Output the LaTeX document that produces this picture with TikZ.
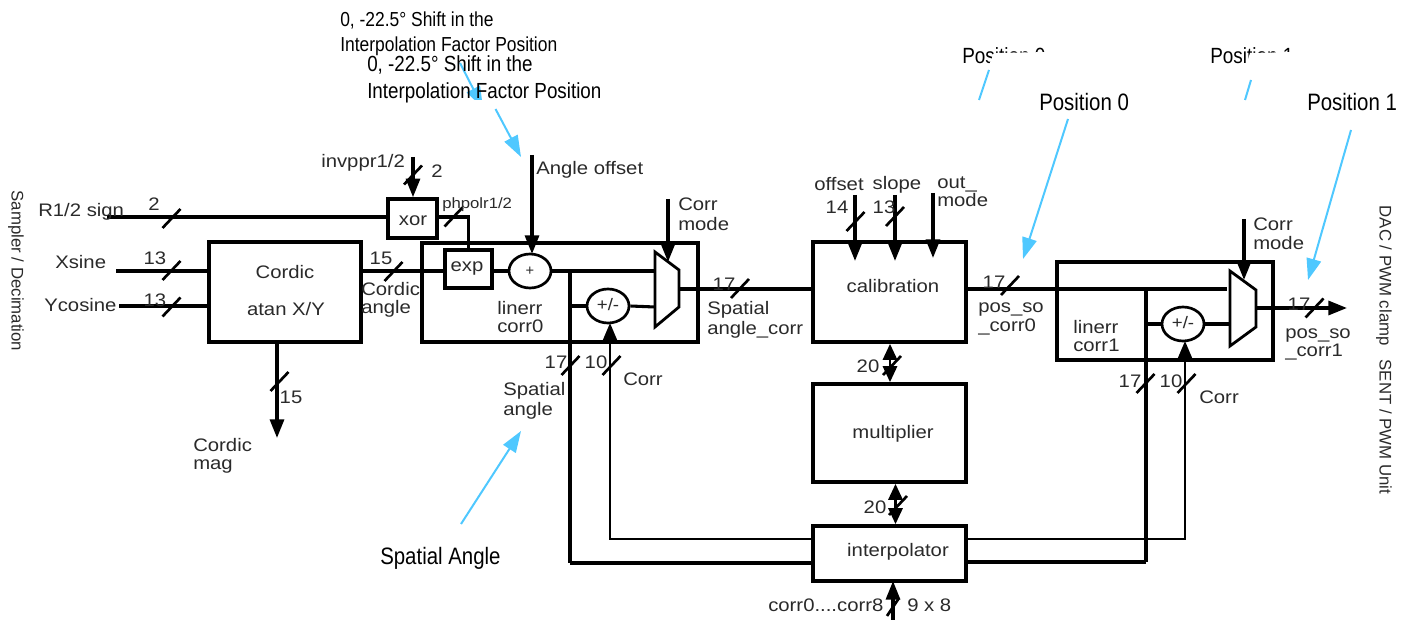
\documentclass[tikz,border=0pt]{standalone}
\usepackage{fontspec}
\setmainfont{Liberation Sans}
\newfontfamily\widefont[FakeStretch=1.12]{Liberation Sans}
\newfontfamily\narrowfont[FakeStretch=0.86]{Liberation Sans}
\usetikzlibrary{arrows.meta,shapes.geometric}
\definecolor{inkgray}{HTML}{2A2A2A}
\definecolor{callout}{HTML}{4FC8FF}
\tikzset{
  blockbox/.style={draw=black,line width=2.7pt,inner sep=0pt,fill=none},
  outerbox/.style={draw=black,line width=2.5pt,inner sep=0pt,fill=none},
  sumnode/.style={draw=black,ellipse,line width=2pt,fill=white,inner sep=0pt,minimum width=31.5pt,minimum height=25.5pt},
  wire/.style={draw=black,line width=2.3pt},
  thinwire/.style={draw=black,line width=1.7pt},
  bus/.style={draw=black,line width=3.1pt},
  arrowwire/.style={draw=black,line width=2.4pt,-{Triangle[length=14pt,width=10.5pt]}},
  thinarrow/.style={draw=black,line width=1.7pt,-{Triangle[length=13pt,width=10.5pt]}},
  bothwire/.style={draw=black,line width=2.2pt,{Triangle[length=12pt,width=10.5pt]}-{Triangle[length=12pt,width=10.5pt]}},
  buswidth/.style={draw=black,line width=2pt},
  lab/.style={inner sep=0pt,anchor=west,align=left,text=inkgray,text height=11.5pt,text depth=2.5pt,font=\widefont\fontsize{13.6}{15}\selectfont},
  clab/.style={lab,anchor=center,align=center},
  smalllab/.style={lab,font=\widefont\fontsize{11.2}{13}\selectfont},
  sidelab/.style={inner sep=0pt,rotate=-90,text=inkgray,font=\fontsize{12.6}{14}\selectfont},
  callouttext/.style={inner sep=0pt,anchor=west,align=left,text=black,text height=14pt,text depth=1.8pt},
  calloutarrow/.style={draw=callout,line width=1.5pt,-{Triangle[length=16pt,width=11pt]}},
  calloutline/.style={draw=callout,line width=1.5pt},
  maskbox/.style={fill=white,draw=none},
  muxshape/.style={draw=black,line width=2.1pt,line join=miter,fill=white},
}
\newcommand{\buslabel}[3][]{\draw[buswidth] (#2-9,#3+9.5) -- (#2+9,#3-9.5);}
\newcommand{\pxbox}[5]{\node[#5,minimum width=#3*0.75pt,minimum height=#4*0.75pt] (#1) at (#2) {};}
\begin{document}
\begin{tikzpicture}[x=0.75pt,y=-0.75pt]
\useasboundingbox (0,0) rectangle (1409,620);

% --- older, partly covered callouts
\node[callouttext,font=\narrowfont\fontsize{15.2}{17}\selectfont] (oldshiftA) at (340,18) {0, -22.5° Shift in the};
\node[callouttext,font=\narrowfont\fontsize{15.2}{17}\selectfont] (oldshiftB) at (340,43) {Interpolation Factor Position};
\coordinate (oldshiftfrom) at (460,63);
\coordinate (oldshiftto) at (483,108);
\draw[calloutarrow] (oldshiftfrom) -- (oldshiftto);
\fill[maskbox] (470,100) rectangle (520,125);
\node[callouttext,font=\narrowfont\fontsize{16.5}{18}\selectfont] (oldpos0) at (962,55) {Position 0};
\node[callouttext,font=\narrowfont\fontsize{16.5}{18}\selectfont] (oldpos1) at (1210,55) {Position 1};
\fill[maskbox] (994,53) -- (1050,52) -- (1050,72) -- (986,72) -- cycle;
\fill[maskbox] (1250,53) -- (1298,52) -- (1298,72) -- (1244,72) -- cycle;
\coordinate (oldpos0a) at (989,70); \coordinate (oldpos0b) at (979,100);
\coordinate (oldpos1a) at (1251,80); \coordinate (oldpos1b) at (1245,100);
\draw[calloutline] (oldpos0a) -- (oldpos0b);
\draw[calloutline] (oldpos1a) -- (oldpos1b);

% --- blocks
\pxbox{cordic}{285,292}{152}{100}{blockbox}
\pxbox{xorb}{412.5,218.5}{49}{39}{blockbox}
\pxbox{corrzero}{560,292.5}{276}{99}{outerbox}
\pxbox{expb}{468.5,269}{47}{38}{blockbox}
\pxbox{calib}{889.5,292}{153}{100}{blockbox}
\pxbox{multi}{889.5,433}{153}{98}{blockbox}
\pxbox{interp}{889.5,553.5}{153}{55}{blockbox}
\pxbox{corrone}{1165,311}{216}{98}{outerbox}

% --- named points
\coordinate (rsign) at (107,217);
\coordinate (xs) at (116,271);
\coordinate (yc) at (119,306);
\coordinate (invtop) at (413,157);
\coordinate (offtop) at (532,155);
\coordinate (offtip) at (532,254);
\coordinate (cm0top) at (668,199);
\coordinate (cm0tip) at (668,262);
\coordinate (magtip) at (277,438);
\coordinate (junc0) at (570,271);
\coordinate (junc1) at (1146,289);
\coordinate (ctop1) at (855,195);
\coordinate (ctip1) at (855,261);
\coordinate (ctop2) at (895,195);
\coordinate (ctip2) at (895,261);
\coordinate (ctop3) at (933,193);
\coordinate (ctip3) at (933,258);
\coordinate (cm1top) at (1244,219);
\coordinate (cm1tip) at (1244,280);
\coordinate (outtip) at (1347,308);
\coordinate (corrin) at (893,620);
\coordinate (corrtip) at (893,581);

% --- multiplexers and adders
\draw[muxshape] (655,252) -- (679,270) -- (679,307) -- (655,327) -- cycle;
\draw[muxshape] (1230,271) -- (1256,290) -- (1256,327) -- (1230,346) -- cycle;
\coordinate (mux0in) at (655,271);
\coordinate (mux0inb) at (655,307);
\coordinate (mux0out) at (679,289);
\coordinate (mux1in) at (1227,289);
\coordinate (mux1inb) at (1230,324);
\coordinate (mux1out) at (1256,308);

% --- wires
\draw[wire] (rsign) -- (rsign -| xorb.west);
\draw[bus] (xs) -- (xs -| cordic.west);
\draw[bus] (yc) -- (yc -| cordic.west);
\draw[arrowwire] (invtop) -- (xorb.north -| invtop);
\draw[wire] (xorb.east |- rsign) -| (expb.north);
\draw[bus] (cordic.east |- xs) -- (xs -| expb.west);
\node[sumnode] (plusa) at (530,271) {};
\node[sumnode] (pma) at (608,306) {};
\node[sumnode] (pmb) at (1183,324) {};
\draw[wire] (expb.east |- plusa) -- (plusa.west);
\draw[wire] (plusa.east) -- (mux0in);
\draw[arrowwire] (offtop) -- (offtip);
\draw[arrowwire] (cm0top) -- (cm0tip);
\draw[arrowwire] (cordic.south -| magtip) -- (magtip);
\draw[bus] (junc0) -- (junc0 |- 0,563);
\draw[wire] (junc0 |- 0,563) -- (interp.west |- 0,563);
\draw[bus] (junc0 |- pma) -- (pma.west);
\draw[wire] (pma.east) -- (mux0inb);
\draw[thinarrow] (interp.west |- 0,539) -| (610,323);
\draw[wire] (mux0out) -- (mux0out -| calib.west);
\draw[arrowwire] (ctop1) -- (ctip1);
\draw[arrowwire] (ctop2) -- (ctip2);
\draw[arrowwire] (ctop3) -- (ctip3);
\draw[wire] (calib.east |- mux0out) -- (mux1in);
\draw[bus] (junc1) -- (junc1 |- 0,562);
\draw[wire] (junc1 |- 0,562) -- (interp.east |- 0,562);
\draw[bus] (junc1 |- pmb) -- (pmb.west);
\draw[wire] (pmb.east) -- (mux1inb);
\draw[thinarrow] (interp.east |- 0,539) -| (1185,341);
\draw[arrowwire] (cm1top) -- (cm1tip);
\draw[arrowwire] (mux1out) -- (outtip);
\draw[bothwire] (calib.south -| 890,0) -- (multi.north -| 890,0);
\draw[bothwire] (multi.south -| 895.5,0) -- (interp.north -| 895.5,0);
\draw[arrowwire] (corrin) -- (corrtip);

% --- bus width marks
\buslabel{171.5}{218.5}
\buslabel{171.5}{270.5}
\buslabel{171.5}{307}
\buslabel{413}{175}
\buslabel{453.5}{217}
\buslabel{393.5}{271.5}
\buslabel{279.5}{381.5}
\buslabel{570.5}{365.5}
\buslabel{611.5}{365.5}
\buslabel{740}{288.5}
\buslabel{855.5}{221.5}
\buslabel{895}{216.5}
\buslabel{1010}{285.5}
\buslabel{1145.5}{383.5}
\buslabel{1186.5}{383.5}
\buslabel{1314.5}{308}
\buslabel{892}{365.5}
\buslabel{898}{505.5}
\draw[buswidth] (887,616) -- (899,598);

% --- block labels
\node[clab] (tcordic) at (285,272) {Cordic};
\node[clab] (tatan) at (286,309) {atan X/Y};
\node[clab] (txor) at (413,220) {xor};
\node[clab] (texp) at (467,266) {exp};
\node[clab,font=\fontsize{11}{12}\selectfont] (tplus) at (530,270) {+};
\node[clab,font=\widefont\fontsize{12.5}{12}\selectfont] (tpma) at (608,304) {+/-};
\node[clab,font=\widefont\fontsize{12.5}{12}\selectfont] (tpmb) at (1183,322) {+/-};
\node[lab] (tl0a) at (497,308) {linerr};
\node[lab] (tl0b) at (497,326) {corr0};
\node[lab] (tl1a) at (1073,327) {linerr};
\node[lab] (tl1b) at (1073,345) {corr1};
\node[clab] (tcal) at (893,286) {calibration};
\node[clab] (tmul) at (893,432) {multiplier};
\node[clab] (tint) at (898,550) {interpolator};

% --- signal labels
\node[lab] (lr) at (38,211) {R1/2 sign};
\node[clab] at (154,205) (n2a) {2};
\node[lab] (lx) at (55,262) {Xsine};
\node[clab] at (155,258) (n13a) {13};
\node[lab] (ly) at (44,305) {Ycosine};
\node[clab] at (155,300) (n13b) {13};
\node[lab] (linv) at (321,162) {invppr1/2};
\node[clab] (n2b) at (437,172) {2};
\node[smalllab] (lph) at (442,203) {phpolr1/2};
\node[clab] (n15a) at (381,258) {15};
\node[lab] (lca) at (361,289) {Cordic};
\node[lab] (lcb) at (361,307) {angle};
\node[lab] (loff) at (536,169) {Angle offset};
\node[lab] (lcm0a) at (678,205) {Corr};
\node[lab] (lcm0b) at (678,225) {mode};
\node[clab] (n15b) at (291,397) {15};
\node[lab] (lmaga) at (193,445) {Cordic};
\node[lab] (lmagb) at (193,463) {mag};
\node[clab] (n17a) at (556,362) {17};
\node[clab] (n10a) at (596,362) {10};
\node[lab] (lsa) at (503,389) {Spatial};
\node[lab] (lsb) at (503,409) {angle};
\node[lab] (lcr0) at (623,379) {Corr};
\node[clab] (n17b) at (724,285) {17};
\node[lab] (lsc) at (707,308) {Spatial};
\node[lab] (lsd) at (707,328) {angle\_corr};
\node[clab] (loffs) at (839,185) {offset};
\node[clab] (lslope) at (897,184) {slope};
\node[lab] (lom) at (937,183) {out\_};
\node[lab] (lon) at (937,201) {mode};
\node[clab] (n14) at (837,208) {14};
\node[clab] (n13c) at (884,208) {13};
\node[clab] (n17c) at (994,282) {17};
\node[lab] (lpa) at (978,306) {pos\_so};
\node[lab] (lpb) at (978,325) {\_corr0};
\node[lab] (lcm1a) at (1253,225) {Corr};
\node[lab] (lcm1b) at (1253,243) {mode};
\node[clab] (n17d) at (1299,304) {17};
\node[lab] (lpc) at (1285,332) {pos\_so};
\node[lab] (lpd) at (1285,350) {\_corr1};
\node[clab] (n17e) at (1130,381) {17};
\node[clab] (n10b) at (1171,381) {10};
\node[lab] (lcr1) at (1199,397) {Corr};
\node[clab] (n20a) at (868,366) {20};
\node[clab] (n20b) at (875,507) {20};
\node[lab] (lcorr) at (768,605) {corr0....corr8};
\node[lab] (l98) at (907,605) {9 x 8};

% --- side labels
\node[sidelab] (sleft) at (16,271) {Sampler / Decimation};
\node[sidelab] (sright) at (1384,350) {DAC / PWM clamp\ \ \ SENT / PWM Unit};

% --- callouts
\node[callouttext,font=\narrowfont\fontsize{16.4}{18}\selectfont] (shiftA) at (367,63) {0, -22.5° Shift in the};
\node[callouttext,font=\narrowfont\fontsize{16.4}{18}\selectfont] (shiftB) at (367,90) {Interpolation Factor Position};
\node[callouttext,font=\narrowfont\fontsize{17.8}{19}\selectfont] (pos0) at (1039,102) {Position 0};
\node[callouttext,font=\narrowfont\fontsize{17.8}{19}\selectfont] (pos1) at (1307,102) {Position 1};
\node[callouttext,font=\narrowfont\fontsize{17.8}{19}\selectfont] (spang) at (380,556) {Spatial Angle};
\coordinate (shiftfrom) at (495.5,109); \coordinate (shiftto) at (521,157);
\coordinate (pos0from) at (1068,119); \coordinate (pos0to) at (1023,259);
\coordinate (pos1from) at (1351,130); \coordinate (pos1to) at (1308,280);
\coordinate (spfrom) at (461,524); \coordinate (spto) at (521,431);
\draw[calloutarrow] (shiftfrom) -- (shiftto);
\draw[calloutarrow] (pos0from) -- (pos0to);
\draw[calloutarrow] (pos1from) -- (pos1to);
\draw[calloutarrow] (spfrom) -- (spto);
\end{tikzpicture}
\end{document}
